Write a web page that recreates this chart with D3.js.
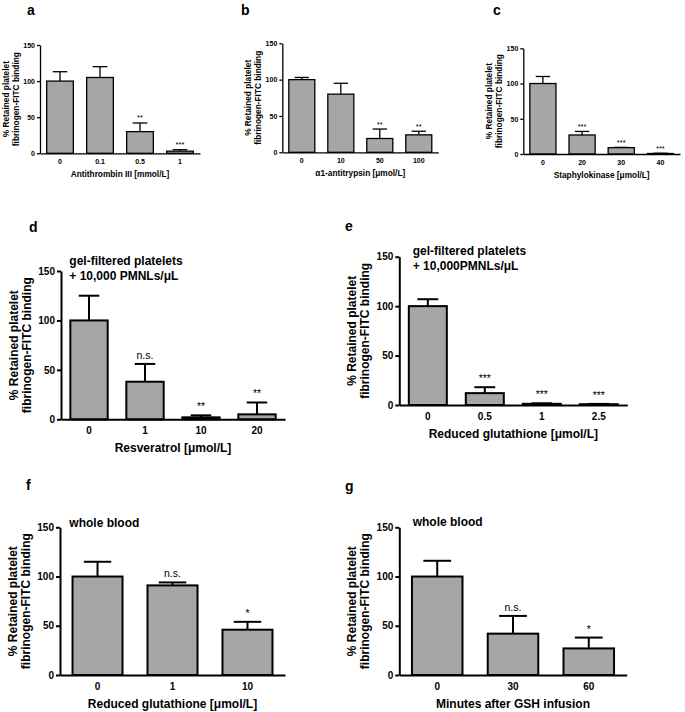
<!DOCTYPE html>
<html>
<head>
<meta charset="utf-8">
<script src="https://cdn.jsdelivr.net/npm/d3@7"></script>
<style>
  body { margin: 0; background: #fff; }
  svg text { font-family: "Liberation Sans", Arial, sans-serif; fill: #000; }
</style>
</head>
<body>
<svg id="chart" width="685" height="712"></svg>
<script>
// values
var cats_a = ["0", "0.1", "0.5", "1"];
var mean_a = [100, 105, 30, 3];
var err_a = [13, 15, 12, 2];
var sig_a = ["", "", "**", "***"];

var cats_b = ["0", "10", "50", "100"];
var mean_b = [100, 80, 19, 24];
var err_b = [3, 15, 13, 5];
var sig_b = ["", "", "**", "**"];

var cats_c = ["0", "20", "30", "40"];
var mean_c = [100, 27, 9, 0.7];
var err_c = [10, 5, 0.4, 0.4];
var sig_c = ["", "***", "***", "***"];

var cats_d = ["0", "1", "10", "20"];
var mean_d = [100, 38, 2, 5];
var err_d = [25, 18, 2, 12];
var sig_d = ["", "n.s.", "**", "**"];

var cats_e = ["0", "0.5", "1", "2.5"];
var mean_e = [100, 12, 1.2, 0.8];
var err_e = [7, 6, 0.5, 0.3];
var sig_e = ["", "***", "***", "***"];

var cats_f = ["0", "1", "10"];
var mean_f = [100, 91, 46];
var err_f = [15, 3, 8];
var sig_f = ["", "n.s.", "*"];

var cats_g = ["0", "30", "60"];
var mean_g = [100, 42, 27];
var err_g = [16, 18, 11];
var sig_g = ["", "n.s.", "*"];

var y_ticks = [0, 50, 100, 150];
var y_title = ["% Retained platelet", "fibrinogen-FITC binding"];

var bar_fill = "#a6a6a6";

var small_style = {stroke: 1.3, tick_font: 7, title_font: 8.3, sig_font: 7.5,
                   tick_len: 3, ytitle_off: [-34.5, -24], xtick_dy: 11.2, xtitle_dy: 23.7, sig_gap: 2.5};
var big_style = {stroke: 2, tick_font: 10, title_font: 12, sig_font: 10.5,
                 tick_len: 4, ytitle_off: [-47.5, -34], xtick_dy: 15, xtitle_dy: 32.7, sig_gap: 5};

var panels = [
    {letter: "a", lx: 27, ly: 15, cats: cats_a, mean: mean_a, err: err_a, sig: sig_a,
     xtitle: "Antithrombin III [mmol/L]", x0: 40, x1: 200, ytop: 45, ybot: 153.3, st: small_style},
    {letter: "b", lx: 241, ly: 15, cats: cats_b, mean: mean_b, err: err_b, sig: sig_b,
     xtitle: "\u03b11-antitrypsin [\u03bcmol/L]", x0: 282.3, x1: 438.3, ytop: 43.3, ybot: 152.3, st: small_style},
    {letter: "c", lx: 493, ly: 15, cats: cats_c, mean: mean_c, err: err_c, sig: sig_c,
     xtitle: "Staphylokinase [\u03bcmol/L]", x0: 523.3, x1: 680, ytop: 48.3, ybot: 154, st: small_style},
    {letter: "d", lx: 29, ly: 231.5, cats: cats_d, mean: mean_d, err: err_d, sig: sig_d,
     xtitle: "Resveratrol [\u03bcmol/L]", x0: 61, x1: 285, ytop: 271, ybot: 419.3, st: big_style,
     note: ["gel-filtered platelets", "+ 10,000 PMNLs/\u03bcL"], nx: 69.3, ny: 265},
    {letter: "e", lx: 345, ly: 230.5, cats: cats_e, mean: mean_e, err: err_e, sig: sig_e,
     xtitle: "Reduced glutathione [\u03bcmol/L]", x0: 399.3, x1: 627.3, ytop: 256.7, ybot: 405, st: big_style,
     note: ["gel-filtered platelets", "+ 10,000PMNLs/\u03bcL"], nx: 412.7, ny: 255},
    {letter: "f", lx: 26, ly: 490, cats: cats_f, mean: mean_f, err: err_f, sig: sig_f,
     xtitle: "Reduced glutathione [\u03bcmol/L]", x0: 60, x1: 285, ytop: 527.3, ybot: 675, st: big_style,
     note: ["whole blood"], nx: 69.3, ny: 527},
    {letter: "g", lx: 345, ly: 490.5, cats: cats_g, mean: mean_g, err: err_g, sig: sig_g,
     xtitle: "Minutes after GSH infusion", x0: 399.3, x1: 626.7, ytop: 527.3, ybot: 675, st: big_style,
     note: ["whole blood"], nx: 412.7, ny: 526}
];

var svg = d3.select("#chart");

function draw_panel(p) {
    var st = p.st;
    var g = svg.append("g").attr("class", "panel-" + p.letter);

    var x = d3.scaleBand()
        .domain(p.cats)
        .range([p.x0, p.x1])
        .paddingInner(0.333)
        .paddingOuter(0.167);
    var y = d3.scaleLinear().domain([0, 150]).range([p.ybot, p.ytop]);

    var rows = p.cats.map(function(c, i) {
        return {cat: c, mean: p.mean[i], err: p.err[i], sig: p.sig[i]};
    });

    // error bars (upper only), drawn first so the bar covers the stem
    var cap = x.bandwidth() * 0.55;
    var eb = g.append("g").selectAll("g").data(rows).enter().append("g");
    eb.append("line")
        .attr("x1", function(d) { return x(d.cat) + x.bandwidth() / 2; })
        .attr("x2", function(d) { return x(d.cat) + x.bandwidth() / 2; })
        .attr("y1", function(d) { return y(d.mean); })
        .attr("y2", function(d) { return y(d.mean + d.err); })
        .attr("stroke", "#000").attr("stroke-width", st.stroke);
    eb.append("line")
        .attr("x1", function(d) { return x(d.cat) + x.bandwidth() / 2 - cap / 2; })
        .attr("x2", function(d) { return x(d.cat) + x.bandwidth() / 2 + cap / 2; })
        .attr("y1", function(d) { return y(d.mean + d.err); })
        .attr("y2", function(d) { return y(d.mean + d.err); })
        .attr("stroke", "#000").attr("stroke-width", st.stroke);

    g.append("g").selectAll("rect").data(rows).enter().append("rect")
        .attr("x", function(d) { return x(d.cat); })
        .attr("y", function(d) { return y(d.mean); })
        .attr("width", x.bandwidth())
        .attr("height", function(d) { return y(0) - y(d.mean); })
        .attr("fill", bar_fill)
        .attr("stroke", "#000")
        .attr("stroke-width", st.stroke);

    // significance marks
    g.append("g").selectAll("text").data(rows).enter().append("text")
        .attr("x", function(d) { return x(d.cat) + x.bandwidth() / 2; })
        .attr("y", function(d) { return y(d.mean + d.err) - st.sig_gap; })
        .attr("text-anchor", "middle")
        .attr("font-size", st.sig_font)
        .text(function(d) { return d.sig; });

    // axes
    var y_axis = d3.axisLeft(y).tickValues(y_ticks).tickSizeOuter(0)
        .tickSizeInner(st.tick_len).tickPadding(2);
    var ya = g.append("g").attr("transform", "translate(" + p.x0 + ",0)").call(y_axis);
    ya.selectAll("text").attr("font-size", st.tick_font).attr("font-weight", "bold")
        .style("font-family", "'Liberation Sans', Arial, sans-serif");

    var x_axis = d3.axisBottom(x).tickSize(0).tickPadding(0);
    var xa = g.append("g").attr("transform", "translate(0," + p.ybot + ")").call(x_axis);
    xa.selectAll("text").attr("dy", null).attr("y", st.xtick_dy)
        .attr("font-size", st.tick_font).attr("font-weight", "bold")
        .style("font-family", "'Liberation Sans', Arial, sans-serif");

    g.selectAll(".domain, .tick line")
        .attr("stroke", "#000").attr("stroke-width", st.stroke);

    // axis titles
    g.append("text")
        .attr("x", (p.x0 + p.x1) / 2)
        .attr("y", p.ybot + st.xtitle_dy)
        .attr("text-anchor", "middle")
        .attr("font-size", st.title_font)
        .attr("font-weight", "bold")
        .text(p.xtitle);

    var ymid = (p.ytop + p.ybot) / 2;
    y_title.forEach(function(line, i) {
        g.append("text")
            .attr("transform", "translate(" + (p.x0 + st.ytitle_off[i]) + "," + ymid + ") rotate(-90)")
            .attr("text-anchor", "middle")
            .attr("dominant-baseline", "central")
            .attr("font-size", st.title_font)
            .attr("font-weight", "bold")
            .text(line);
    });

    if (p.note) {
        p.note.forEach(function(line, i) {
            g.append("text")
                .attr("x", p.nx)
                .attr("y", p.ny + i * 15)
                .attr("font-size", 12)
                .attr("font-weight", "bold")
                .text(line);
        });
    }

    g.append("text")
        .attr("x", p.lx)
        .attr("y", p.ly)
        .attr("font-size", 14)
        .attr("font-weight", "bold")
        .text(p.letter);
}

panels.forEach(draw_panel);
</script>
</body>
</html>
